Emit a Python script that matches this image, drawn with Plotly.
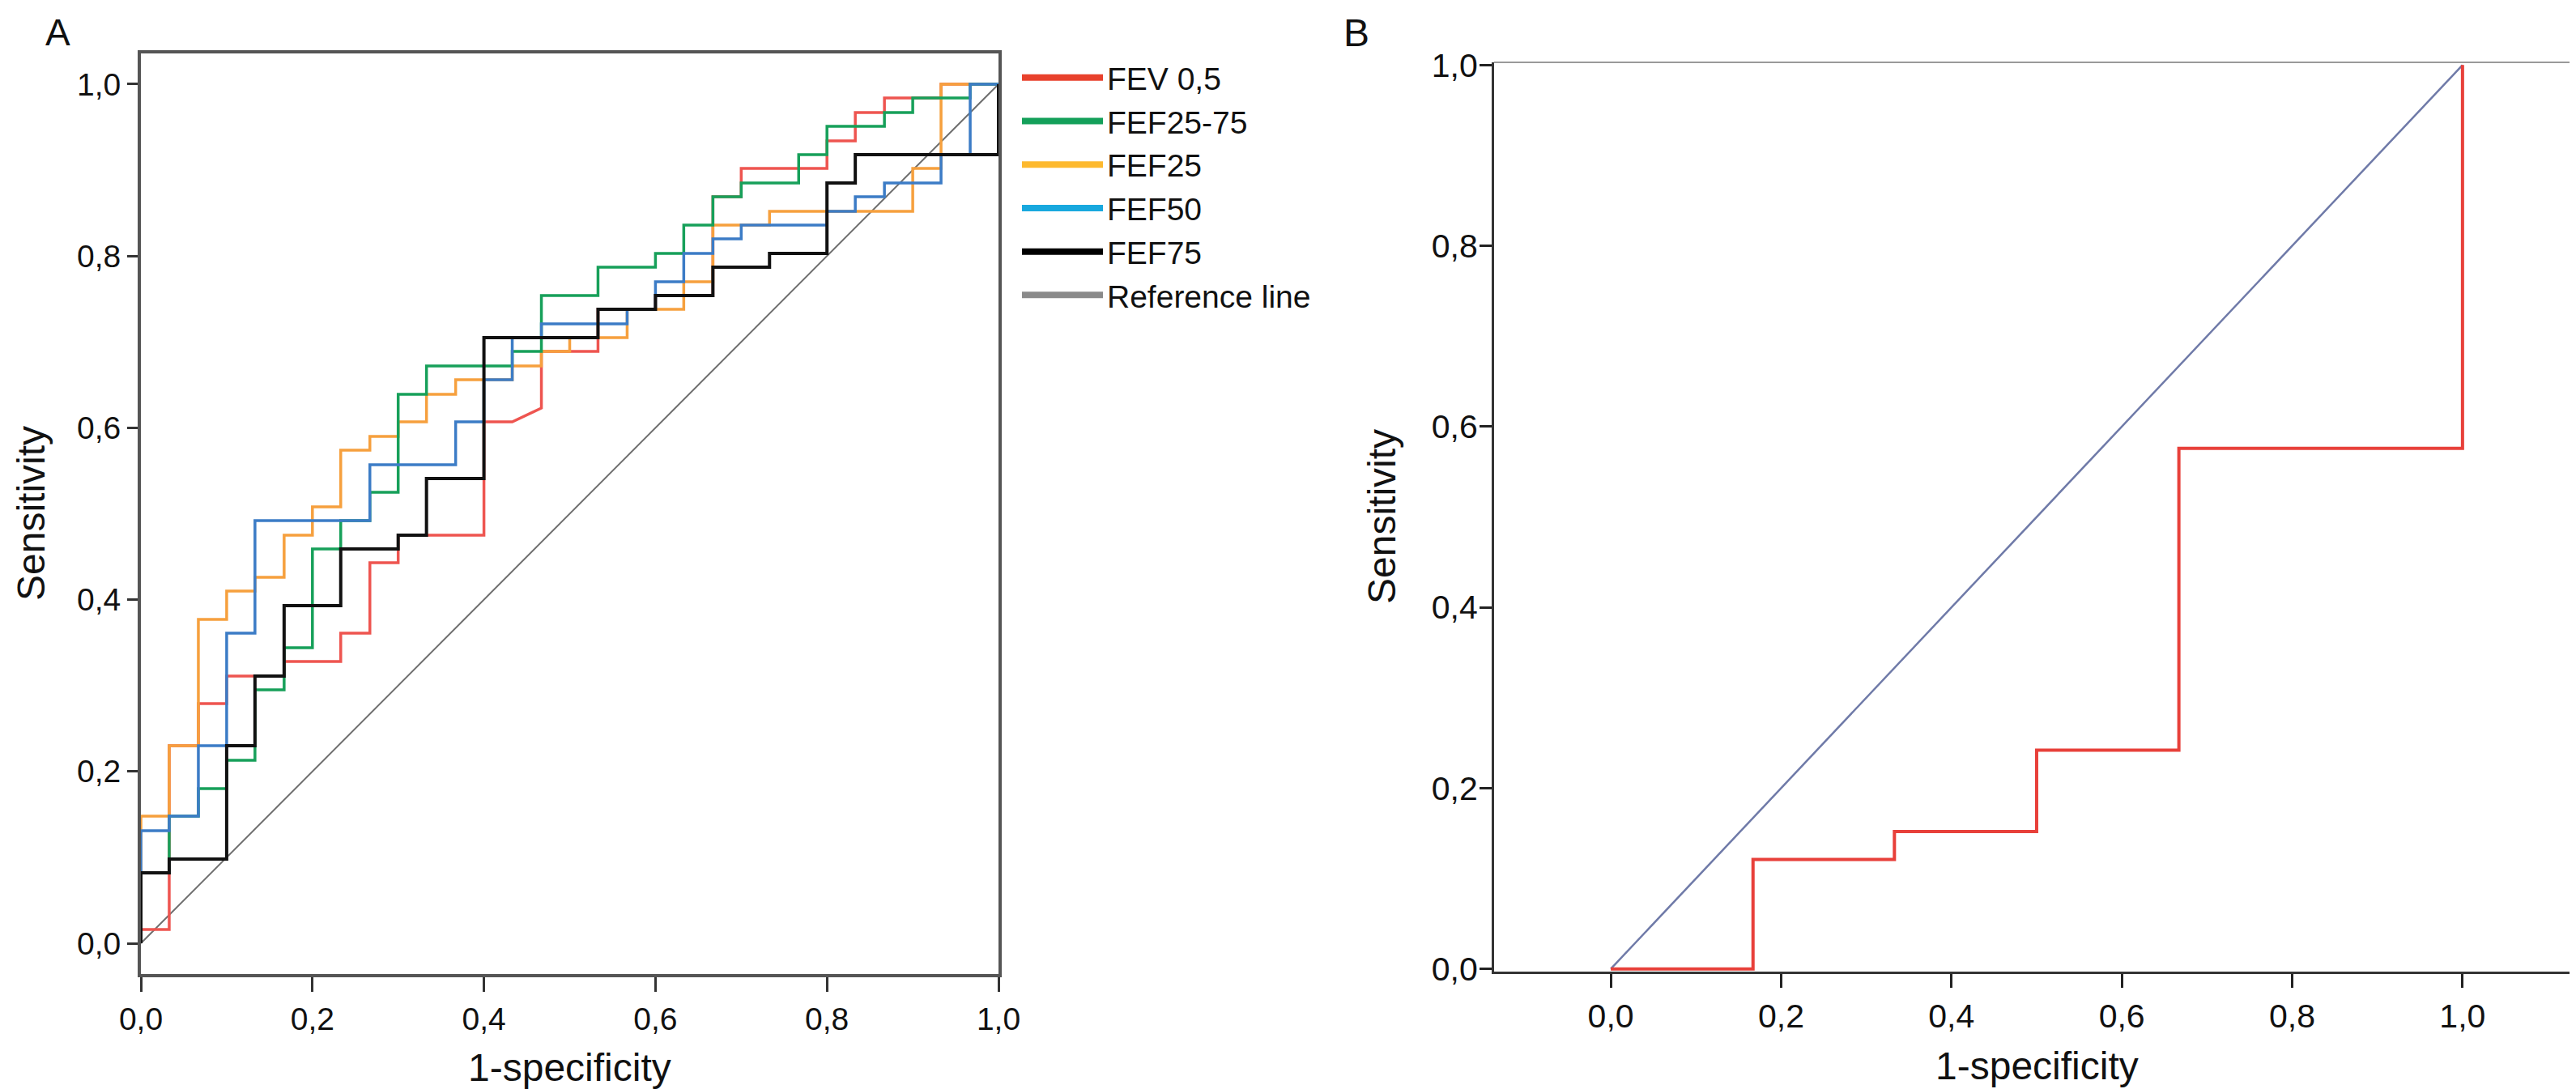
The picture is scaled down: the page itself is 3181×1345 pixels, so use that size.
import plotly.graph_objects as go

# Panel A: ROC curves (1-specificity, sensitivity), step corners
fev05_x = [0, 0, .033, .033, .067, .067, .1, .1, .167, .167, .233, .233, .267, .267, .3, .3, .4, .4, .433,
           .467, .467, .533, .533, .6, .6, .667, .667, .7, .7, .8, .8, .833, .833, .867, .867, .933, .933, 1]
fev05_y = [0, .016, .016, .230, .230, .279, .279, .311, .311, .328, .328, .361, .361, .443, .443, .475, .475,
           .607, .607, .623, .689, .689, .738, .738, .754, .754, .869, .869, .902, .902, .934, .934, .967, .967,
           .984, .984, 1, 1]

fef2575_x = [0, 0, .033, .067, .1, .133, .167, .2, .233, .267, .3, .333, .433, .467, .533, .6, .633, .667, .7,
             .767, .8, .867, .9, .967, 1]
fef2575_y = [0, .082, .148, .180, .213, .295, .344, .459, .492, .525, .639, .672, .689, .754, .787, .803, .836,
             .869, .885, .918, .951, .967, .984, 1, 1]

fef25_x = [0, 0, .033, .067, .1, .133, .167, .2, .233, .267, .3, .333, .367, .433, .467, .5, .567, .633, .667,
           .733, .9, .933, 1]
fef25_y = [0, .148, .230, .377, .410, .426, .475, .508, .574, .590, .607, .639, .656, .672, .689, .705, .738,
           .770, .836, .852, .902, 1, 1]

fef50_x = [0, 0, .033, .067, .1, .133, .267, .367, .4, .433, .467, .567, .6, .633, .667, .7, .8, .833, .867,
           .933, .967, 1]
fef50_y = [0, .131, .148, .230, .361, .492, .557, .607, .656, .705, .721, .738, .770, .803, .820, .836, .852,
           .869, .885, .918, 1, 1]

fef75_x = [0, 0, .033, .1, .133, .167, .233, .3, .333, .4, .533, .6, .667, .733, .8, .833, 1]
fef75_y = [0, .082, .098, .230, .311, .393, .459, .475, .541, .705, .738, .754, .787, .803, .885, .918, 1]

ref_x = [0, 1]
ref_y = [0, 1]

# Panel B
b_x = [0, .167, .333, .5, .667, 1]
b_y = [0, .121, .152, .242, .576, 1]

tick_vals = [0, 0.2, 0.4, 0.6, 0.8, 1.0]
tick_text = ["0,0", "0,2", "0,4", "0,6", "0,8", "1,0"]

legend_names = ["FEV 0,5", "FEF25-75", "FEF25", "FEF50", "FEF75", "Reference line"]
legend_colors = ["#E8412C", "#14A05A", "#FDB92E", "#18A8DE", "#000000", "#8A8A8A"]

W, H = 3181, 1345
font = "Liberation Sans, Arial, sans-serif"

fig = go.Figure()

fig.add_scatter(x=ref_x, y=ref_y, mode="lines", line=dict(color="#6E6E6E", width=2),
                showlegend=False, xaxis="x", yaxis="y")
fig.add_scatter(x=fev05_x, y=fev05_y, mode="lines", line=dict(color="#EE5550", width=3.5),
                showlegend=False, xaxis="x", yaxis="y")
fig.add_scatter(x=fef25_x, y=fef25_y, mode="lines", line=dict(color="#F6A03E", width=3.5, shape="hv"),
                showlegend=False, xaxis="x", yaxis="y")
fig.add_scatter(x=fef2575_x, y=fef2575_y, mode="lines", line=dict(color="#17A05A", width=3.5, shape="hv"),
                showlegend=False, xaxis="x", yaxis="y")
fig.add_scatter(x=fef50_x, y=fef50_y, mode="lines", line=dict(color="#3C7CC6", width=3.5, shape="hv"),
                showlegend=False, xaxis="x", yaxis="y")
fig.add_scatter(x=fef75_x, y=fef75_y, mode="lines", line=dict(color="#111111", width=4, shape="hv"),
                showlegend=False, xaxis="x", yaxis="y")

# legend entries (the legend uses its own colours)
for name, col in zip(legend_names, legend_colors):
    fig.add_scatter(x=[None], y=[None], mode="lines", name=name,
                    line=dict(color=col, width=8), xaxis="x", yaxis="y")

fig.add_scatter(x=ref_x, y=ref_y, mode="lines", line=dict(color="#6F7AA8", width=2.5),
                showlegend=False, xaxis="x2", yaxis="y2")
fig.add_scatter(x=b_x, y=b_y, mode="lines", line=dict(color="#E8403A", width=4, shape="hv"),
                showlegend=False, xaxis="x2", yaxis="y2")

axis_a = dict(showgrid=False, zeroline=False, showline=True, linecolor="#555555", linewidth=4,
              mirror=True, ticks="outside", tickwidth=3, tickcolor="#333333", automargin=False,
              tickvals=tick_vals, ticktext=tick_text,
              tickfont=dict(family=font, size=39, color="#111111"))
axis_b = dict(showgrid=False, zeroline=False, showline=True, linecolor="#333333", linewidth=3,
              ticks="outside", tickwidth=3, tickcolor="#222222", automargin=False,
              tickvals=tick_vals, ticktext=tick_text,
              tickfont=dict(family=font, size=41, color="#111111"))

fig.update_layout(
    width=W, height=H,
    margin=dict(l=0, r=0, t=0, b=0),
    plot_bgcolor="white", paper_bgcolor="white",
    xaxis=dict(axis_a, domain=[166 / W, 1225 / W], range=[0, 1], ticklen=18, anchor="y"),
    yaxis=dict(axis_a, domain=[(H - 1195) / H, (H - 58) / H], range=[-0.0358, 1.0358], ticklen=13, anchor="x"),
    xaxis2=dict(axis_b, domain=[1837 / W, 3178 / W], range=[-0.137, 1.138], ticklen=17, anchor="y2"),
    yaxis2=dict(axis_b, domain=[(H - 1192) / H, (H - 69) / H], range=[-0.003, 1.003], ticklen=15,
                ticklabelstandoff=-6, anchor="x2"),
    legend=dict(x=1249 / W, y=(H - 56) / H, xanchor="left", yanchor="top",
                font=dict(family=font, size=39, color="#111111"),
                itemwidth=100, bgcolor="rgba(0,0,0,0)", tracegroupgap=0),
)

# thin top / right frame of panel B
fig.add_shape(type="line", xref="x2 domain", yref="y2 domain", x0=0, x1=1, y0=1, y1=1,
              line=dict(color="#9A9A9A", width=2))
fig.add_shape(type="line", xref="x2 domain", yref="y2 domain", x0=1, x1=1, y0=0, y1=1,
              line=dict(color="#9A9A9A", width=2))

notes = [
    ("A", 63, 32, 0, 46),
    ("B", 1667, 32, 0, 48),
    ("Sensitivity", 30, 626, -90, 48),
    ("Sensitivity", 1699, 630, -90, 48),
    ("1-specificity", 695, 1310, 0, 48),
    ("1-specificity", 2507, 1308, 0, 48),
]
for txt, px, py, ang, sz in notes:
    fig.add_annotation(text=txt, x=px / W, y=(H - py) / H, xref="paper", yref="paper",
                       xanchor="center", yanchor="middle", showarrow=False, textangle=ang,
                       font=dict(family=font, size=sz, color="#111111"))

fig.write_html("out.html")
